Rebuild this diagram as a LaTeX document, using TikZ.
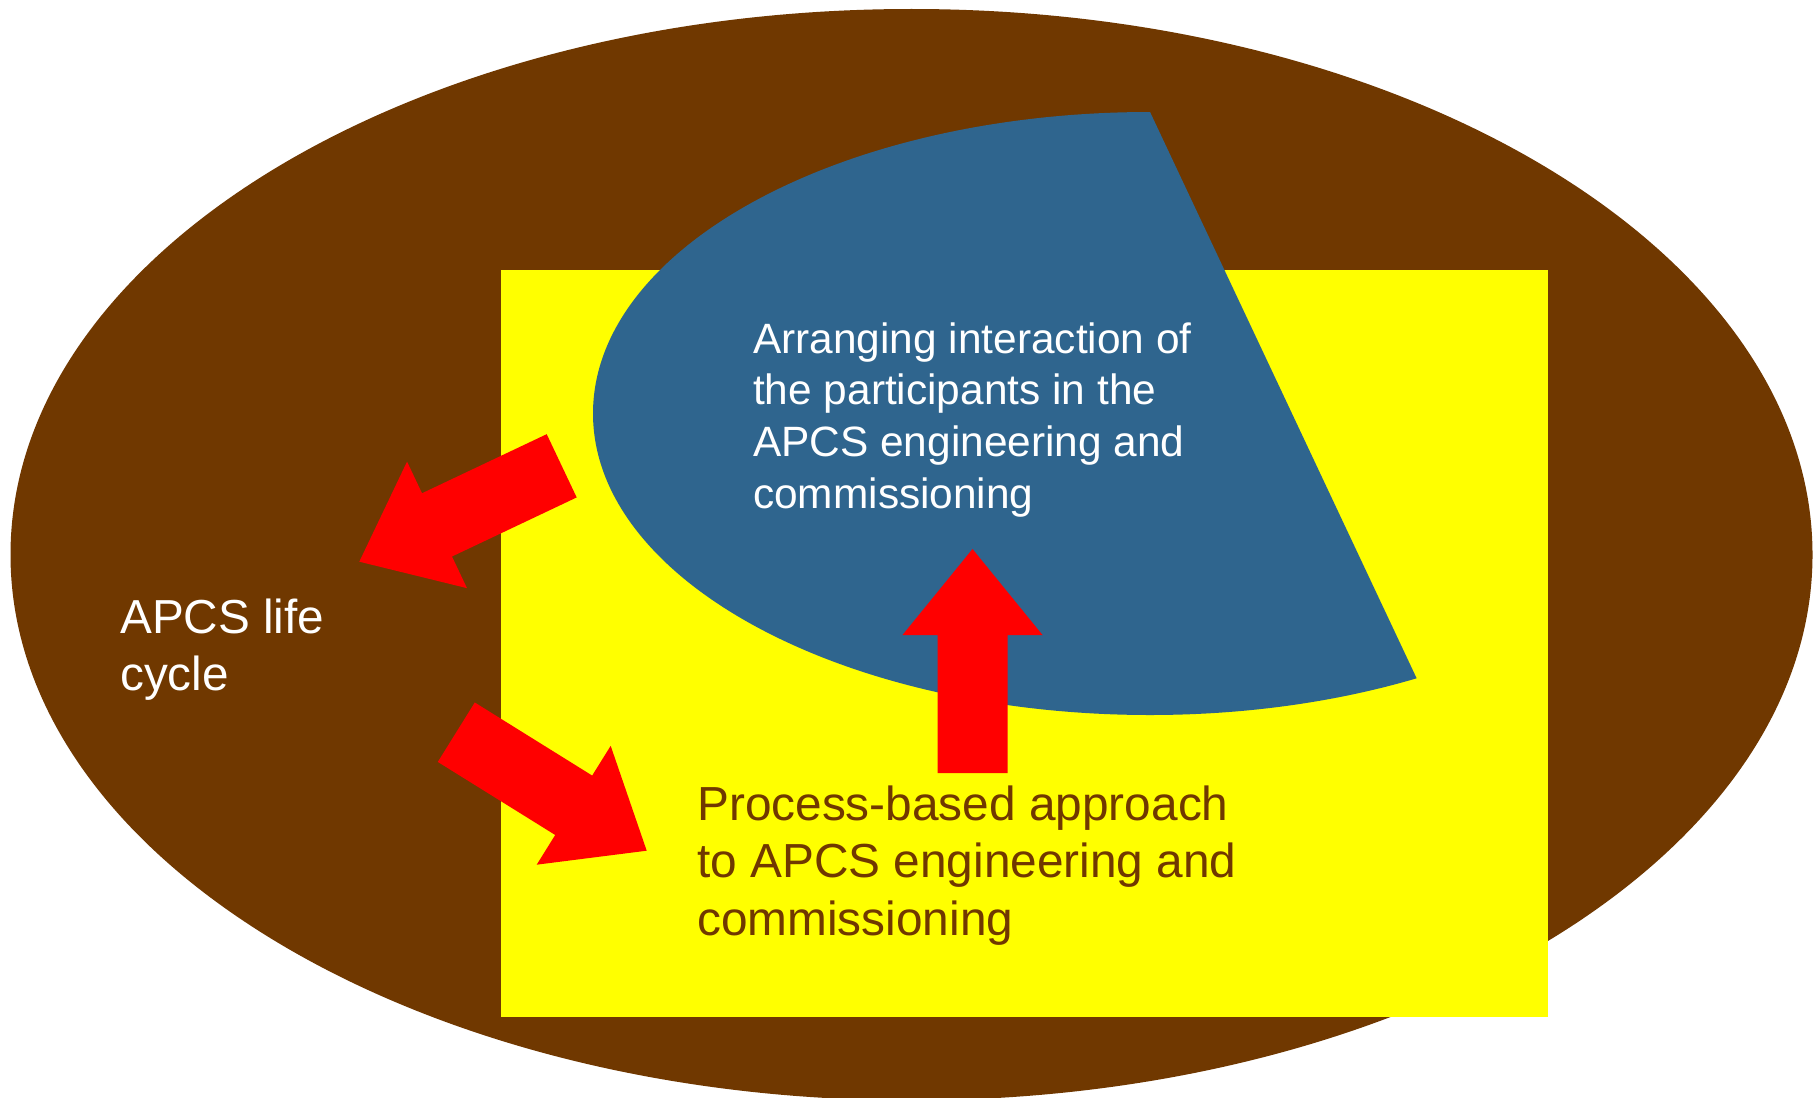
\documentclass[tikz,border=0pt]{standalone}
\usepackage{fontspec}
\setmainfont{Liberation Sans}
\usetikzlibrary{calc}

\definecolor{lifebrown}{RGB}{112,56,0}
\definecolor{procyellow}{RGB}{255,255,0}
\definecolor{partblue}{RGB}{47,101,142}
\definecolor{arrowred}{RGB}{255,0,0}

\tikzset{
  blockfill/.style={fill=arrowred},
  whitetext/.style={text=white, align=left, inner sep=0pt, anchor=base west},
  browntext/.style={text=lifebrown, align=left, inner sep=0pt, anchor=base west}
}

% Wide block arrow: shaft 70, head 140 wide and 86 long, from tail (#2) to tip (#3)
\newcommand\blockarrow[3]{%
  \coordinate (#1-h) at ($(#3)!86pt!(#2)$);
  \fill[blockfill]
    ($(#2)!35pt!90:(#3)$) -- ($(#1-h)!35pt!-90:(#2)$) -- ($(#1-h)!70pt!-90:(#2)$)
    -- (#3)
    -- ($(#1-h)!70pt!90:(#2)$) -- ($(#1-h)!35pt!90:(#2)$) -- ($(#2)!35pt!-90:(#3)$)
    -- cycle;
}

\begin{document}
\begin{tikzpicture}[x=1pt, y=-1pt]
  \useasboundingbox (0,0) rectangle (1819,1097);
  \fill[white] (0,0) rectangle (1819,1097);
  \clip (0,0) rectangle (1819,1097);

  % life cycle ellipse
  \fill[lifebrown] (911.5,554.7) ellipse [x radius=901, y radius=545.7];

  % process-based approach square
  \fill[procyellow] (501,270) rectangle (1548,1017);

  % interaction chord: ellipse cut by a straight edge on the right
  \begin{scope}
    \clip (1070,-58) -- (1497,849) -- (0,849) -- (0,-58) -- cycle;
    \fill[partblue] (1150,413.5) ellipse [x radius=557, y radius=301.5];
  \end{scope}

  % arrow end points
  \coordinate (a1tail) at (561.7,465.8);
  \coordinate (a1tip)  at (359.3,561.7);
  \coordinate (a2tail) at (456.3,732.2);
  \coordinate (a2tip)  at (646.7,850.7);
  \coordinate (a3tail) at (972.5,773);
  \coordinate (a3tip)  at (972.5,549);

  \blockarrow{toLife}{a1tail}{a1tip}
  \blockarrow{toProcess}{a2tail}{a2tip}
  \blockarrow{toInteraction}{a3tail}{a3tip}

  % labels (anchored at the baseline of their last line)
  \node[whitetext, font=\fontsize{42.4}{51.6}\selectfont] (interaction) at (753,508.1)
    {Arranging interaction of\\the participants in the\\APCS engineering and\\commissioning};
  \node[whitetext, font=\fontsize{47.7}{57}\selectfont] (life) at (120,690.3)
    {APCS life\\cycle};
  \node[browntext, font=\fontsize{47.8}{57.5}\selectfont] (process) at (697,935)
    {Process-based approach\\to APCS engineering and\\commissioning};
\end{tikzpicture}
\end{document}
